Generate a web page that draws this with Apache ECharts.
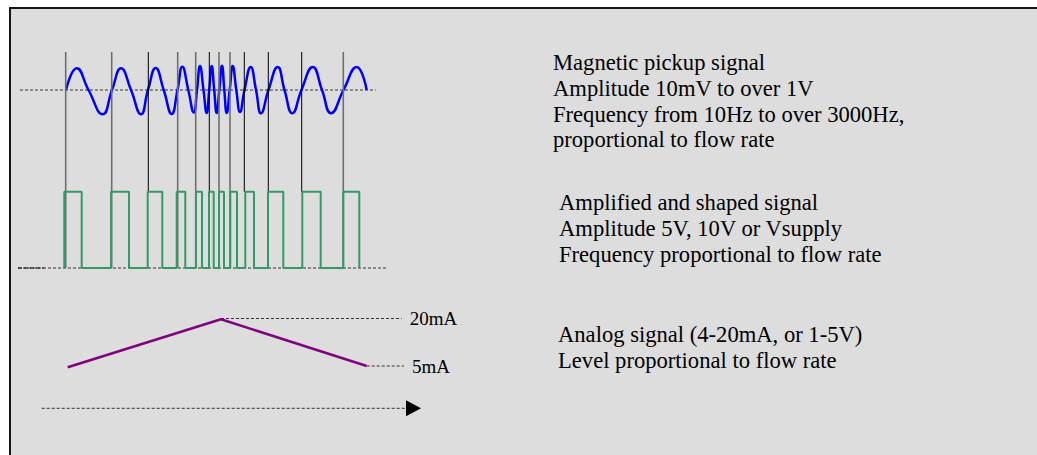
<!DOCTYPE html>
<html><head><meta charset="utf-8">
<script src="https://cdn.jsdelivr.net/npm/echarts@6/dist/echarts.min.js"></script>
<style>html,body{margin:0;padding:0;background:#fff;}#c{width:1037px;height:455px;}</style>
</head><body><div id="c"></div>
<script>
// ---- data (time along x, signal level along y) ----
// Magnetic pickup signal: zero crossings, peaks and troughs
const sinePoints = [
  [66,90],[76.7,68.3],[88.5,90],[102.7,114.3],[112,90],[121,68.3],[131,90],[141,114.3],
  [148,90],[155.7,68],[163.7,90],[171.7,114],[177.5,90],[182.3,66.7],[188.3,90],[193.8,112.5],
  [197,90],[200,66],[203.5,90],[206.7,113],[209.2,90],[211.7,66],[214.2,90],[216.7,113],
  [219.3,90],[222,65.7],[224.3,90],[226.7,113],[229.7,90],[232.7,66],[236.3,90],[240,112],
  [244.5,90],[250.7,67],[256,90],[261,113.3],[268.5,90],[277.7,67],[284.5,90],[292.3,113.3],
  [301.5,90],[312.7,67],[322,90],[331,113.3],[343.5,90],[356.7,67],[366.7,90]
];
const sineCentre = 90;
const sineCentreSpan = [20, 375.7];
// Shaped signal: alternating rising / falling edge times
const squareEdges = [64.3,81.7,111,129,147.7,162.3,176.7,185.3,196,202,209,213.7,219,224,
  230.3,237,245.3,254,268,283.3,302.3,320.7,343.3,359.3];
const squareHigh = 191.7, squareLow = 268;
const squareBaseSpan = [18, 388];
// Rising zero-crossing markers: [time, reaches baseline (1) or stops at high level (0)]
const crossLines = [[65.7,1],[111.7,1],[148.3,0],[177.7,1],[195.7,1],[209.3,0],[219,1],
  [230,1],[244.3,0],[268.3,0],[301.7,0],[343.3,1]];
const crossTop = 52;
// Analog output
const analogPoints = [[67.7,367.3],[221,319.3],[366.7,366]];
const levelNames = ['20mA','5mA'];
const levelValues = [318.5, 366];
const levelSpans = [[221,401.7],[366.7,404]];
// Time arrow
const arrowSpan = [41.7, 413.5];
const arrowLevel = 408.3;
// Descriptions
const textMagnetic = ['Magnetic pickup signal','Amplitude 10mV to over 1V','Frequency from 10Hz to over 3000Hz,','proportional to flow rate'];
const textShaped = ['Amplified and shaped signal','Amplitude 5V, 10V or Vsupply','Frequency proportional to flow rate'];
const textAnalog = ['Analog signal (4-20mA, or 1-5V)','Level proportional to flow rate'];

// ---- build ----
const squarePts = [[squareEdges[0], squareLow]];
squareEdges.forEach((t, i) => {
  const rising = i % 2 === 0;
  squarePts.push([t, rising ? squareLow : squareHigh]);
  squarePts.push([t, rising ? squareHigh : squareLow]);
});
squarePts.shift();

const serif = '"Liberation Serif","Times New Roman",serif';
const dash = {color:'#333', width:1, type:[3,2]};
const frame = {show:true, onZero:false, lineStyle:{color:'#151515', width:2}};

const chart = echarts.init(document.getElementById('c'), null, {renderer:'svg'});
const series = [
  {type:'line', data: sineCentreSpan.map(t => [t, sineCentre]), showSymbol:false, lineStyle: dash, z:1},
  {type:'line', data: sinePoints, smooth:0.5, showSymbol:false, lineStyle:{color:'#0000ff', width:2.5}, z:2},
  {type:'custom', data: crossLines, z:3,
    renderItem: (p, api) => {
      const x = api.value(0), long = api.value(1);
      const a = api.coord([x, crossTop]);
      const b = api.coord([x, long ? squareLow : squareHigh]);
      return {type:'line', shape:{x1:a[0], y1:a[1], x2:b[0], y2:b[1]},
        style:{stroke: long ? '#6e6e6e' : '#000', lineWidth: long ? 1.6 : 1}};
    }},
  {type:'line', data: squareBaseSpan.map(t => [t, squareLow]), showSymbol:false, lineStyle: dash, z:1},
  {type:'line', data: [[squareBaseSpan[0], squareLow],[44, squareLow]], showSymbol:false, lineStyle:{color:'#333', width:1.6, type:[4,2]}, z:1},
  {type:'line', data: squarePts, showSymbol:false, lineStyle:{color:'#339966', width:2}, z:4},
  {type:'line', data: analogPoints, showSymbol:false, lineStyle:{color:'#800080', width:2.5}, z:4}
];
levelNames.forEach((n, i) => {
  series.push({type:'line', name:n, data: levelSpans[i].map(t => [t, levelValues[i]]), showSymbol:false,
    lineStyle: dash, z:3,
    endLabel:{show:true, formatter: n, distance:8, color:'#000', fontFamily: serif, fontSize:19}});
});
series.push({type:'line', data: arrowSpan.map(t => [t, arrowLevel]), showSymbol:false, lineStyle: dash, z:3});
series.push({type:'scatter', data: [[arrowSpan[1], arrowLevel]], symbol:'triangle', symbolRotate:-90,
  symbolSize:[16,15], itemStyle:{color:'#000', opacity:1}, z:5});

const txt = (lines, left, top) => ({type:'text', left, top,
  style:{text: lines.join('\n'), font: '22.6px ' + serif, lineHeight: 25.7, fill:'#000'}});

chart.setOption({
  animation:false,
  grid:{left:10, top:8, right:0, bottom:0, show:true, backgroundColor:'#dddddd', borderWidth:0},
  xAxis:{type:'value', min:10, max:1037, position:'top', axisLine:frame, axisTick:{show:false}, axisLabel:{show:false}, splitLine:{show:false}},
  yAxis:{type:'value', min:8, max:455, inverse:true, position:'left', axisLine:frame, axisTick:{show:false}, axisLabel:{show:false}, splitLine:{show:false}},
  series,
  graphic:[ txt(textMagnetic, 553, 50), txt(textShaped, 559, 190), txt(textAnalog, 558, 322) ]
});
</script></body></html>
